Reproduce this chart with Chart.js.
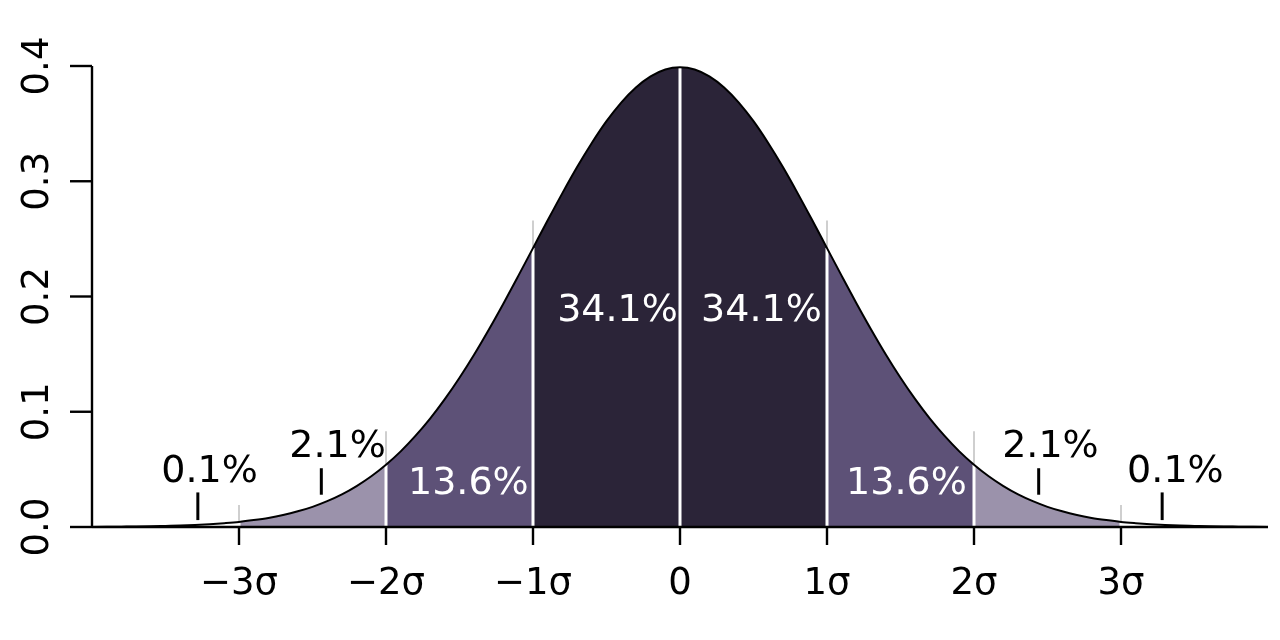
<!DOCTYPE html>
<html>
<head>
<meta charset="utf-8">
<script src="https://cdn.jsdelivr.net/npm/chart.js@4.4.1/dist/chart.umd.min.js"></script>
<style>
  html, body { margin: 0; background: #fff; }
</style>
</head>
<body>
<canvas id="chart" width="1280" height="640"></canvas>
<script>
// Curve, one point per 0.1 sigma
const sigmaX = [
  -4.0, -3.9, -3.8, -3.7, -3.6, -3.5, -3.4, -3.3, -3.2, -3.1,
  -3.0, -2.9, -2.8, -2.7, -2.6, -2.5, -2.4, -2.3, -2.2, -2.1,
  -2.0, -1.9, -1.8, -1.7, -1.6, -1.5, -1.4, -1.3, -1.2, -1.1,
  -1.0, -0.9, -0.8, -0.7, -0.6, -0.5, -0.4, -0.3, -0.2, -0.1,
  0.0,
  0.1, 0.2, 0.3, 0.4, 0.5, 0.6, 0.7, 0.8, 0.9, 1.0,
  1.1, 1.2, 1.3, 1.4, 1.5, 1.6, 1.7, 1.8, 1.9, 2.0,
  2.1, 2.2, 2.3, 2.4, 2.5, 2.6, 2.7, 2.8, 2.9, 3.0,
  3.1, 3.2, 3.3, 3.4, 3.5, 3.6, 3.7, 3.8, 3.9, 4.0
];
const density = [
  0.0001, 0.0002, 0.0003, 0.0004, 0.0006, 0.0009, 0.0012, 0.0017, 0.0024, 0.0033,
  0.0044, 0.0060, 0.0079, 0.0104, 0.0136, 0.0175, 0.0224, 0.0283, 0.0355, 0.0440,
  0.0540, 0.0656, 0.0790, 0.0940, 0.1109, 0.1295, 0.1497, 0.1714, 0.1942, 0.2179,
  0.2420, 0.2661, 0.2897, 0.3123, 0.3332, 0.3521, 0.3683, 0.3814, 0.3910, 0.3970,
  0.3989,
  0.3970, 0.3910, 0.3814, 0.3683, 0.3521, 0.3332, 0.3123, 0.2897, 0.2661, 0.2420,
  0.2179, 0.1942, 0.1714, 0.1497, 0.1295, 0.1109, 0.0940, 0.0790, 0.0656, 0.0540,
  0.0440, 0.0355, 0.0283, 0.0224, 0.0175, 0.0136, 0.0104, 0.0079, 0.0060, 0.0044,
  0.0033, 0.0024, 0.0017, 0.0012, 0.0009, 0.0006, 0.0004, 0.0003, 0.0002, 0.0001
];

const bandEdges = [-3, -2, -1, 0, 1, 2, 3];
const bandColors = ['#9b92ab', '#5d5177', '#2b2438', '#2b2438', '#5d5177', '#9b92ab'];
const guideTops = [0.019, 0.083, 0.266, 0, 0.266, 0.083, 0.019];

const xTickValues = [-3, -2, -1, 0, 1, 2, 3];
const xTickLabels = ['\u22123\u03c3', '\u22122\u03c3', '\u22121\u03c3', '0', '1\u03c3', '2\u03c3', '3\u03c3'];
const yTickValues = [0, 0.1, 0.2, 0.3, 0.4];
const yTickLabels = ['0.0', '0.1', '0.2', '0.3', '0.4'];

const shareLabels = ['0.1%', '2.1%', '13.6%', '34.1%', '34.1%', '13.6%', '2.1%', '0.1%'];
const shareX = [-3.20, -2.33, -1.44, -0.425, 0.554, 1.54, 2.52, 3.37];
const shareY = [0.048, 0.069, 0.037, 0.187, 0.187, 0.037, 0.069, 0.048];
const shareWhite = [false, false, true, true, true, true, false, false];

const markerX = [-3.28, -2.44, 2.44, 3.28];
const markerLow = [0.006, 0.028, 0.028, 0.006];
const markerHigh = [0.030, 0.051, 0.051, 0.030];

const fontFamily = '"DejaVu Sans", sans-serif';

function densityAt(x) {
  const i = sigmaX.findIndex(v => Math.abs(v - x) < 1e-6);
  return density[i];
}

const curvePoints = sigmaX.map((x, i) => ({ x: x, y: density[i] }));

const datasets = [];

// Black outline on top
datasets.push({
  data: curvePoints,
  borderColor: '#000',
  borderWidth: 2,
  pointRadius: 0,
  fill: false,
  cubicInterpolationMode: 'monotone',
  clip: false,
  order: 0
});

// White dividers under the outline, grey stubs above them
bandEdges.forEach((x, i) => {
  datasets.push({
    data: [{ x: x, y: 0 }, { x: x, y: densityAt(x) }],
    borderColor: '#fff',
    borderWidth: 3,
    pointRadius: 0,
    fill: false,
    order: 1
  });
  if (guideTops[i] > 0) {
    datasets.push({
      data: [{ x: x, y: 0 }, { x: x, y: guideTops[i] }],
      borderColor: '#cfcfcf',
      borderWidth: 2,
      pointRadius: 0,
      fill: false,
      order: 2
    });
  }
});

// Shaded bands
for (let b = 0; b < bandColors.length; b++) {
  const lo = bandEdges[b], hi = bandEdges[b + 1];
  datasets.push({
    data: curvePoints.filter(p => p.x >= lo - 1e-6 && p.x <= hi + 1e-6),
    borderWidth: 0,
    borderColor: 'rgba(0,0,0,0)',
    backgroundColor: bandColors[b],
    pointRadius: 0,
    fill: 'origin',
    cubicInterpolationMode: 'monotone',
    order: 3
  });
}

// Little marker strokes under the tail labels
markerX.forEach((x, i) => {
  datasets.push({
    data: [{ x: x, y: markerLow[i] }, { x: x, y: markerHigh[i] }],
    borderColor: '#000',
    borderWidth: 3,
    pointRadius: 0,
    fill: false,
    order: 0
  });
});

const axesPlugin = {
  id: 'axesPlugin',
  afterDatasetsDraw(chart) {
    const ctx = chart.ctx;
    const xs = chart.scales.x;
    const ys = chart.scales.y;
    ctx.save();
    ctx.strokeStyle = '#000';
    ctx.lineWidth = 2.4;

    // baseline
    ctx.beginPath();
    ctx.moveTo(xs.getPixelForValue(-4), ys.getPixelForValue(0));
    ctx.lineTo(xs.getPixelForValue(4), ys.getPixelForValue(0));
    ctx.stroke();

    // y axis
    const yAxisX = xs.getPixelForValue(-4);
    ctx.beginPath();
    ctx.moveTo(yAxisX, ys.getPixelForValue(0));
    ctx.lineTo(yAxisX, ys.getPixelForValue(0.4));
    ctx.stroke();

    ctx.fillStyle = '#000';
    ctx.font = '37px ' + fontFamily;
    yTickValues.forEach((v, i) => {
      const py = ys.getPixelForValue(v);
      ctx.beginPath();
      ctx.moveTo(yAxisX - 22, py);
      ctx.lineTo(yAxisX, py);
      ctx.stroke();
      ctx.save();
      ctx.translate(48, py);
      ctx.rotate(-Math.PI / 2);
      ctx.textAlign = 'center';
      ctx.textBaseline = 'alphabetic';
      ctx.fillText(yTickLabels[i], 0, 0);
      ctx.restore();
    });

    // x ticks
    const base = ys.getPixelForValue(0);
    ctx.textAlign = 'center';
    ctx.textBaseline = 'alphabetic';
    xTickValues.forEach((v, i) => {
      const px = xs.getPixelForValue(v);
      ctx.beginPath();
      ctx.moveTo(px, base);
      ctx.lineTo(px, base + 18);
      ctx.stroke();
      ctx.fillText(xTickLabels[i], px, 594);
    });

    // share labels
    ctx.font = '38px ' + fontFamily;
    ctx.textBaseline = 'middle';
    shareLabels.forEach((t, i) => {
      ctx.fillStyle = shareWhite[i] ? '#fff' : '#000';
      ctx.fillText(t, xs.getPixelForValue(shareX[i]), ys.getPixelForValue(shareY[i]));
    });
    ctx.restore();
  }
};

new Chart(document.getElementById('chart'), {
  type: 'line',
  data: { datasets: datasets },
  options: {
    responsive: false,
    animation: false,
    devicePixelRatio: 1,
    layout: { padding: { left: 92, right: 12, top: 66, bottom: 113 } },
    plugins: { legend: { display: false }, tooltip: { enabled: false } },
    scales: {
      x: { type: 'linear', min: -4, max: 4, display: false },
      y: { type: 'linear', min: 0, max: 0.4, display: false }
    }
  },
  plugins: [axesPlugin]
});
</script>
</body>
</html>
